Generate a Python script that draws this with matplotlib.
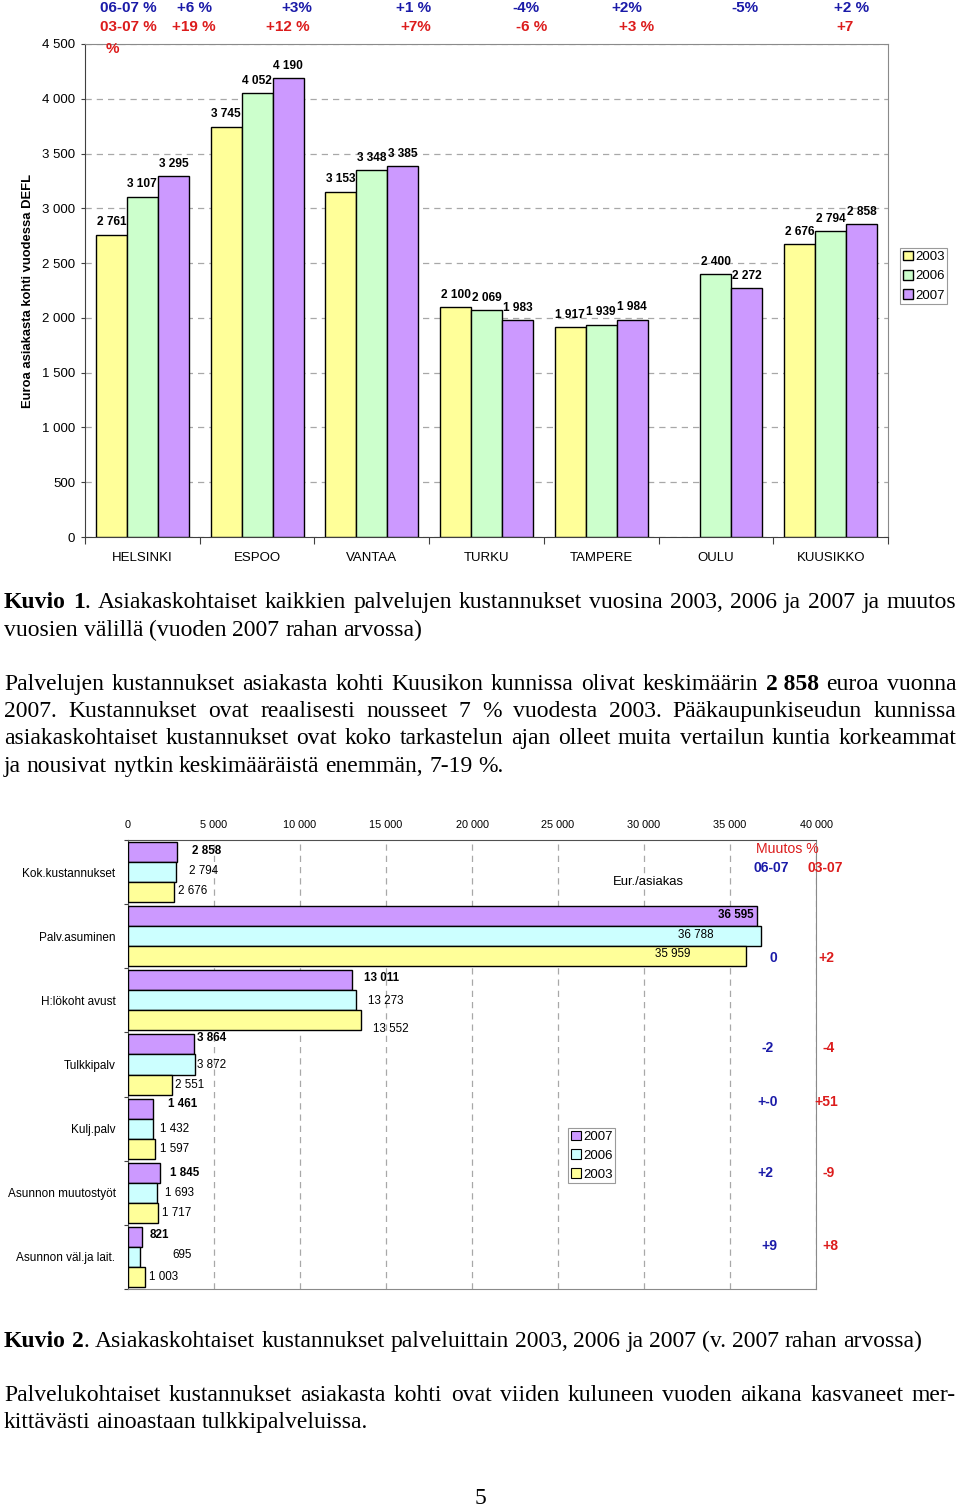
import matplotlib
matplotlib.use("Agg")
import matplotlib.pyplot as plt
from matplotlib.patches import Patch
import numpy as np

# ---------------------------------------------------------------------------
# Kuvio 1: costs per client by city (EUR, 2007 money)
# ---------------------------------------------------------------------------
cities = ["HELSINKI", "ESPOO", "VANTAA", "TURKU", "TAMPERE", "OULU", "KUUSIKKO"]
years1 = ["2003", "2006", "2007"]
cost_2003 = [2761, 3745, 3153, 2100, 1917, np.nan, 2676]
cost_2006 = [3107, 4052, 3348, 2069, 1939, 2400, 2794]
cost_2007 = [3295, 4190, 3385, 1983, 1984, 2272, 2858]
city_chg_0607 = ["+6 %", "+3%", "+1 %", "-4%", "+2%", "-5%", "+2 %"]
city_chg_0307 = ["+19 %", "+12 %", "+7%", "-6 %", "+3 %", "", "+7"]

# ---------------------------------------------------------------------------
# Kuvio 2: costs per client by service
# ---------------------------------------------------------------------------
services = ["Kok.kustannukset", "Palv.asuminen", "H:lökoht avust", "Tulkkipalv",
            "Kulj.palv", "Asunnon muutostyöt", "Asunnon väl.ja lait."]
serv_2007 = [2858, 36595, 13011, 3864, 1461, 1845, 821]
serv_2006 = [2794, 36788, 13273, 3872, 1432, 1693, 695]
serv_2003 = [2676, 35959, 13552, 2551, 1597, 1717, 1003]
serv_chg_0607 = ["0", "-2", "+-0", "+2", "+9"]
serv_chg_0307 = ["+2", "-4", "+51", "-9", "+8"]

W, H = 960, 1507
BLUE = "#1a1aa8"
RED = "#dc1c1c"
SANS = "Liberation Sans"
SERIF = "Liberation Serif"


def fx(x):
    return x / W


def fy(y):
    return 1 - y / H


def fmt(v):
    return f"{int(v):,}".replace(",", " ")


fig = plt.figure(figsize=(W / 100, H / 100), dpi=100)
plt.rcParams["font.family"] = SANS

# ---------------------------------------------------------------- chart 1
ax1 = fig.add_axes([fx(85), fy(537), (888 - 85) / W, (537 - 44) / H])
x = np.arange(len(cities))
bw = 0.27
cols1 = ["#FFFF99", "#CCFFCC", "#CC99FF"]
for k, (vals, c, yr) in enumerate(zip([cost_2003, cost_2006, cost_2007], cols1, years1)):
    xs = x + (k - 1) * bw
    ax1.bar(xs, vals, bw, color=c, edgecolor="black", linewidth=1.0, zorder=3, label=yr)
    for xi, v in zip(xs, vals):
        if np.isnan(v):
            continue
        ax1.annotate(fmt(v), (xi, v), xytext=(0, 4.5), textcoords="offset points",
                     ha="center", va="bottom", fontsize=8.6, fontweight="bold")

ax1.set_xlim(-0.5, len(cities) - 0.5)
ax1.set_ylim(0, 4500)
ax1.set_yticks(np.arange(0, 4501, 500), [fmt(v) for v in np.arange(0, 4501, 500)])
ax1.set_xticks(x, cities)
ax1.set_xticks(np.arange(-0.5, len(cities), 1), minor=True)
ax1.tick_params(axis="x", which="major", length=0, pad=10.5, labelsize=9.5)
ax1.tick_params(axis="x", which="minor", length=5, width=0.8, color="#404040")
ax1.tick_params(axis="y", length=3, width=0.8, pad=4, labelsize=9.5, color="#404040")
ax1.yaxis.grid(True, linestyle=(0, (5, 4)), color="#a8a8a8", linewidth=0.9)
ax1.set_axisbelow(True)
for s in ["left", "bottom"]:
    ax1.spines[s].set_color("#404040")
for s in ["top", "right"]:
    ax1.spines[s].set_color("#8a8a8a")

fig.text(fx(28), fy(291), "Euroa asiakasta kohti vuodessa DEFL", rotation=90,
         ha="center", va="center", fontsize=9.4, fontweight="bold")

leg1 = ax1.legend(loc="upper left", bbox_to_anchor=(fx(900), fy(248)),
                  bbox_transform=fig.transFigure, borderaxespad=0, fontsize=9.5,
                  handlelength=0.75, handleheight=0.75, handletextpad=0.2,
                  labelspacing=0.52, borderpad=0.2, fancybox=False, framealpha=1)
leg1.get_frame().set_edgecolor("#9a9a9a")
leg1.get_frame().set_linewidth(0.8)

# change labels above the plot
top_x1 = [177, 281, 396, 512, 611, 731, 834]
top_x2 = [172, 266, 400, 516, 619, 0, 836]
fig.text(fx(100), fy(7.5), "06-07 %", color=BLUE, fontsize=11, fontweight="bold", va="center")
fig.text(fx(100), fy(27), "03-07 %", color=RED, fontsize=11, fontweight="bold", va="center")
fig.text(fx(106), fy(49), "%", color=RED, fontsize=11, fontweight="bold", va="center")
for xx, s in zip(top_x1, city_chg_0607):
    fig.text(fx(xx), fy(7.5), s, color=BLUE, fontsize=11, fontweight="bold", va="center")
for xx, s in zip(top_x2, city_chg_0307):
    if s:
        fig.text(fx(xx), fy(27), s, color=RED, fontsize=11, fontweight="bold", va="center")

# ---------------------------------------------------------------- chart 2
ax2 = fig.add_axes([fx(128), fy(1289), (816 - 128) / W, (1289 - 840) / H])
yy = np.arange(len(services))
bh = 0.3125
series2 = [("2007", serv_2007, "#CC99FF", -bh, "bold"),
           ("2006", serv_2006, "#CCFFFF", 0.0, "normal"),
           ("2003", serv_2003, "#FFFF99", bh, "normal")]
# label offsets in pixels (dx from bar end, dy downwards, alignment)
lab_off = {
    "2007": [(15, -1, "left"), (-4, -1, "right"), (12, -2, "left"), (2.5, -6, "left"),
             (15, -4.5, "left"), (10, 0, "left"), (8, -2, "left")],
    "2006": [(13, -1, "left"), (-47, -1, "right"), (12, 1, "left"), (2.5, 0, "left"),
             (7.5, 0, "left"), (8, 0, "left"), (32, -2, "left")],
    "2003": [(4, -1, "left"), (-56.5, -2, "right"), (12, 9, "left"), (3, 0, "left"),
             (4.5, 0, "left"), (4.5, 0, "left"), (4, 0, "left")],
}
handles2 = []
for yr, vals, c, off, wt in series2:
    ax2.barh(yy + off, vals, bh, color=c, edgecolor="black", linewidth=1.0, zorder=3)
    handles2.append(Patch(facecolor=c, edgecolor="black", linewidth=0.8, label=yr))
    for yi, v, (dx, dy, ha) in zip(yy + off, vals, lab_off[yr]):
        ax2.annotate(fmt(v), (v, yi), xytext=(dx, -dy), textcoords="offset pixels",
                     ha=ha, va="center", fontsize=8.4, fontweight=wt, zorder=4)

ax2.set_xlim(0, 40000)
ax2.set_ylim(len(services) - 0.5, -0.5)
ax2.xaxis.tick_top()
ax2.set_xticks(np.arange(0, 40001, 5000), [fmt(v) for v in np.arange(0, 40001, 5000)])
ax2.tick_params(axis="x", length=0, pad=7, labelsize=7.8)
ax2.set_yticks(yy, services)
ax2.set_yticks(np.arange(-0.5, len(services), 1), minor=True)
ax2.tick_params(axis="y", which="major", length=0, pad=9, labelsize=8.5)
ax2.tick_params(axis="y", which="minor", length=3, width=0.8, color="#404040")
ax2.xaxis.grid(True, linestyle=(0, (5, 4)), color="#a8a8a8", linewidth=0.9)
ax2.set_axisbelow(True)
for s in ["left", "top"]:
    ax2.spines[s].set_color("#505050")
for s in ["bottom", "right"]:
    ax2.spines[s].set_color("#8a8a8a")

leg2 = ax2.legend(handles=handles2, loc="upper left", bbox_to_anchor=(fx(568), fy(1128)),
                  bbox_transform=fig.transFigure, borderaxespad=0, fontsize=9.5,
                  handlelength=0.75, handleheight=0.75, handletextpad=0.2,
                  labelspacing=0.48, borderpad=0.2, fancybox=False, framealpha=1)
leg2.get_frame().set_edgecolor("#9a9a9a")
leg2.get_frame().set_linewidth(0.8)

fig.text(fx(756), fy(849), "Muutos %", color=RED, fontsize=10.2, va="center")
fig.text(fx(753), fy(868), "06-07", color=BLUE, fontsize=10, fontweight="bold", va="center")
fig.text(fx(807), fy(868), "03-07", color=RED, fontsize=10, fontweight="bold", va="center")
fig.text(fx(613), fy(882), "Eur./asiakas", fontsize=9.4, va="center")
chg_y = [958, 1048, 1102, 1173, 1246]
chg_xb = [773, 768, 768, 765.5, 769.5]
chg_xr = [826, 829, 826.5, 829, 830.5]
for cy, xb, xr, sb, sr in zip(chg_y, chg_xb, chg_xr, serv_chg_0607, serv_chg_0307):
    fig.text(fx(xb), fy(cy), sb, color=BLUE, fontsize=10, fontweight="bold", ha="center", va="center")
    fig.text(fx(xr), fy(cy), sr, color=RED, fontsize=10, fontweight="bold", ha="center", va="center")

# ---------------------------------------------------------------- body text
renderer = fig.canvas.get_renderer()
TS = 17


def parse(line):
    words = [[]]
    for i, chunk in enumerate(line.split("**")):
        bold = i % 2 == 1
        for j, p in enumerate(chunk.split(" ")):
            if j > 0:
                words.append([])
            if p:
                words[-1].append((p, bold))
    return [w for w in words if w]


def text_line(line, base_y, justify, x0=4, x1=956):
    words = parse(line)
    placed, widths = [], []
    for word in words:
        segs, w = [], 0.0
        for s, b in word:
            t = fig.text(0, fy(base_y), s, fontsize=TS, family=SERIF,
                         fontweight="bold" if b else "normal", ha="left", va="baseline")
            segs.append((t, w))
            w += t.get_window_extent(renderer).width
        placed.append(segs)
        widths.append(w)
    if justify and len(words) > 1:
        gap = (x1 - x0 - sum(widths)) / (len(words) - 1)
    else:
        gap = TS * 100 / 72 * 0.25
    xc = x0
    for segs, w in zip(placed, widths):
        for t, o in segs:
            t.set_x(fx(xc + o))
        xc += w + gap


body = [
    ("**Kuvio 1**. Asiakaskohtaiset kaikkien palvelujen kustannukset vuosina 2003, 2006 ja 2007 ja muutos", 608, True),
    ("vuosien välillä (vuoden 2007 rahan arvossa)", 636, False),
    ("Palvelujen kustannukset asiakasta kohti Kuusikon kunnissa olivat keskimäärin **2\u00a0858** euroa vuonna", 690, True),
    ("2007. Kustannukset ovat reaalisesti nousseet 7 % vuodesta 2003. Pääkaupunkiseudun kunnissa", 717, True),
    ("asiakaskohtaiset kustannukset ovat koko tarkastelun ajan olleet muita vertailun kuntia korkeammat", 744, True),
    ("ja nousivat nytkin keskimääräistä enemmän, 7-19 %.", 772, False),
    ("**Kuvio 2**. Asiakaskohtaiset kustannukset palveluittain 2003, 2006 ja 2007 (v. 2007 rahan arvossa)", 1347, False),
    ("Palvelukohtaiset kustannukset asiakasta kohti ovat viiden kuluneen vuoden aikana kasvaneet mer-", 1401, True),
    ("kittävästi ainoastaan tulkkipalveluissa.", 1428, False),
]
for line, by, just in body:
    text_line(line, by, just)

fig.text(fx(480), fy(1504), "5", fontsize=TS, family=SERIF, ha="center", va="baseline")

fig.savefig("out.png", dpi=100)
